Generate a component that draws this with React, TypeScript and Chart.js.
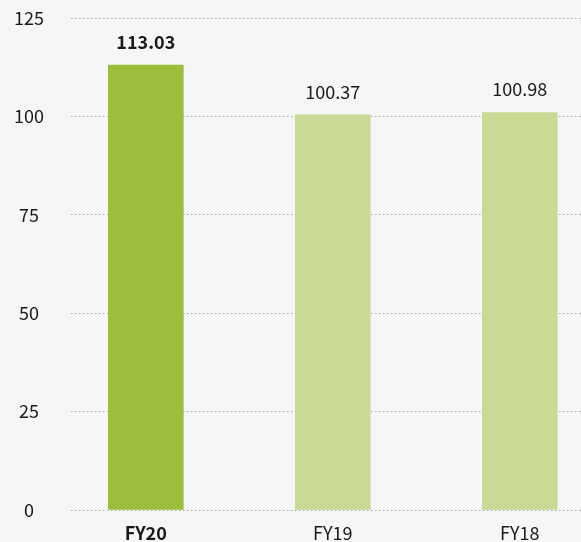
import React, { useEffect, useRef } from "react";
import { Chart, registerables } from "chart.js";

Chart.register(...registerables);

const categories = ["FY20", "FY19", "FY18"];
const values = [113.03, 100.37, 100.98];
const valueLabels = ["113.03", "100.37", "100.98"];
const yTicks = [0, 25, 50, 75, 100, 125];
const highlightIndex = 0;

const FONT = '"Noto Sans CJK JP", "Noto Sans", sans-serif';
const TEXT = "#1a1a1a";
const DARK = "#9bbf3a";
const LIGHT = "#c9da94";

const valueLabelPlugin = {
  id: "valueLabels",
  afterDatasetsDraw(chart: any) {
    const ctx = chart.ctx;
    const meta = chart.getDatasetMeta(0);
    meta.data.forEach((bar: any, i: number) => {
      ctx.save();
      ctx.font = `${i === highlightIndex ? "700" : "400"} 18px ${FONT}`;
      ctx.fillStyle = TEXT;
      ctx.textAlign = "center";
      ctx.textBaseline = "middle";
      ctx.fillText(valueLabels[i], bar.x, bar.y - 23);
      ctx.restore();
    });
  },
};

export default function App() {
  const ref = useRef<HTMLCanvasElement | null>(null);

  useEffect(() => {
    if (!ref.current) return;
    const chart = new Chart(ref.current, {
      type: "bar",
      data: {
        datasets: [
          {
            data: values.map((v, i) => ({ x: i, y: v })),
            backgroundColor: values.map((_, i) => (i === highlightIndex ? DARK : LIGHT)),
            barThickness: 75,
            borderWidth: 0,
          },
        ],
      },
      options: {
        animation: false,
        responsive: true,
        maintainAspectRatio: false,
        layout: { padding: { top: 18, left: 0, right: 0, bottom: 0 } },
        plugins: { legend: { display: false }, tooltip: { enabled: false } },
        scales: {
          x: {
            type: "linear",
            offset: false,
            min: -0.4,
            max: 2.327,
            grid: { display: false },
            border: { display: false },
            afterBuildTicks: (scale: any) => {
              scale.ticks = categories.map((_, i) => ({ value: i }));
            },
            afterFit: (scale: any) => {
              scale.height = 32;
              scale.paddingLeft = 0;
              scale.paddingRight = 0;
            },
            ticks: {
              padding: 4,
              color: TEXT,
              autoSkip: false,
              maxRotation: 0,
              font: (c: any) => ({
                family: FONT,
                size: 18,
                weight: c.tick && c.tick.value === highlightIndex ? "bold" : "normal",
              }),
              callback: (v: any) => categories[v as number] ?? "",
            },
          },
          y: {
            min: 0,
            max: 125,
            grid: { color: "#a8a8a8", lineWidth: 1, drawTicks: false },
            border: { display: false, dash: [1.5, 2.5] },
            afterBuildTicks: (scale: any) => {
              scale.ticks = yTicks.map((v) => ({ value: v }));
            },
            afterFit: (scale: any) => {
              scale.width = 71;
              scale.paddingTop = 0;
              scale.paddingBottom = 0;
            },
            ticks: {
              padding: 27,
              crossAlign: "center",
              color: TEXT,
              font: { family: FONT, size: 18 },
            },
          },
        },
      },
      plugins: [valueLabelPlugin],
    });
    return () => chart.destroy();
  }, []);

  return (
    <div
      style={{
        position: "fixed",
        left: 0,
        top: 0,
        width: 581,
        height: 542,
        background: "#f5f6f5",
      }}
    >
      <canvas ref={ref} />
    </div>
  );
}
